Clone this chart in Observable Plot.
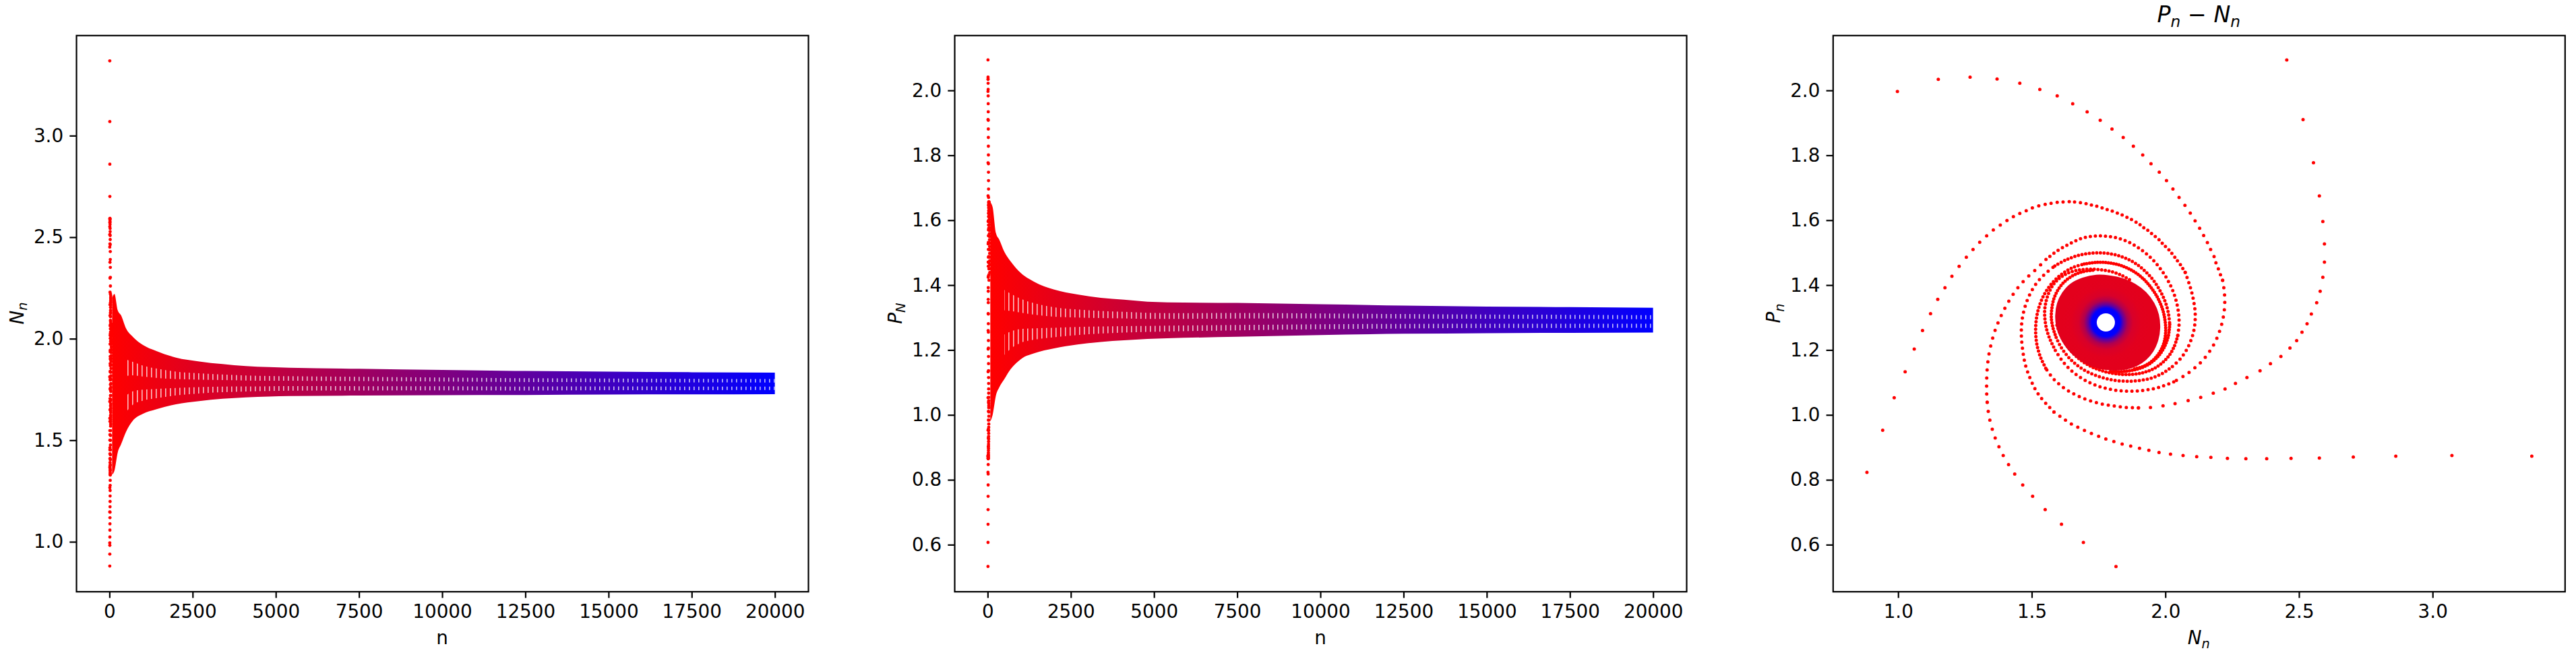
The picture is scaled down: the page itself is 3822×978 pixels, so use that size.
<!DOCTYPE html>
<html><head><meta charset="utf-8">
<script src="https://cdn.jsdelivr.net/npm/d3@7"></script>
<script src="https://cdn.jsdelivr.net/npm/@observablehq/plot@0.6"></script>
<style>
body{margin:0;background:#fff;}
#wrap{position:relative;width:3822px;height:978px;overflow:hidden;background:#fff;}
#wrap svg.panel{position:absolute;top:0;max-width:none;}
</style></head><body>
<svg width="0" height="0" style="position:absolute">
<defs>
 <linearGradient id="gradTS" x1="0" y1="0" x2="1" y2="0">
   <stop offset="0" stop-color="rgb(255,0,0)"/>
   <stop offset="1" stop-color="rgb(0,0,255)"/>
 </linearGradient>
 <pattern id="slits" patternUnits="userSpaceOnUse" width="7" height="20">
   <rect x="0" y="0" width="1.6" height="20" fill="white"/>
 </pattern>
 <radialGradient id="radC" cx="0.5" cy="0.5" r="0.5">
   <stop offset="0" stop-color="#0000ff"/>
   <stop offset="0.32" stop-color="#0000ff"/>
   <stop offset="0.40" stop-color="#6000a0"/>
   <stop offset="0.50" stop-color="#b0004f"/>
   <stop offset="0.62" stop-color="#d8002a"/>
   <stop offset="0.80" stop-color="#e2001e"/>
   <stop offset="1" stop-color="#e3001c"/>
 </radialGradient>
</defs></svg>
<div id="wrap"></div>
<script>
// ---------- tick values ----------
const nTicks = [0, 2500, 5000, 7500, 10000, 12500, 15000, 17500, 20000];
const NTicks = [1.0, 1.5, 2.0, 2.5, 3.0];
const PTicks = [0.6, 0.8, 1.0, 1.2, 1.4, 1.6, 1.8, 2.0];

// ---------- early (sparse) trajectory points ----------
const armA_N = [3.370,3.071,2.861,2.702,2.575,2.469,2.378,2.300,2.231,2.169,2.116,2.065,2.018,1.975,1.937,1.902,1.869,1.837,1.806,1.776,1.749,1.722,1.696,1.671,1.647,1.625,1.604,1.582];
const armA_P = [0.874,0.876,0.874,0.871,0.868,0.867,0.866,0.866,0.867,0.870,0.872,0.876,0.880,0.885,0.892,0.898,0.905,0.911,0.919,0.927,0.935,0.944,0.953,0.963,0.973,0.985,0.997,1.010];
const armB_N = [2.453,2.514,2.553,2.575,2.588,2.594,2.594,2.588,2.578,2.565,2.545,2.529,2.510,2.490,2.465,2.431,2.392,2.353,2.304,2.261,2.222,2.178,2.131,2.084,2.035,1.990,1.943,1.898];
const armB_P = [2.095,1.911,1.778,1.676,1.597,1.528,1.472,1.425,1.382,1.347,1.312,1.282,1.256,1.230,1.207,1.181,1.159,1.137,1.116,1.098,1.081,1.068,1.055,1.045,1.036,1.029,1.024,1.023];
const armC_N = [0.882,0.941,0.984,1.025,1.059,1.090,1.120,1.147,1.174,1.200,1.227,1.254,1.279,1.304,1.330,1.355,1.381,1.406,1.430,1.454,1.478,1.501,1.525,1.549,1.571,1.594,1.616,1.639,1.659,1.681,1.702,1.722,1.742,1.762,1.781,1.800,1.819,1.837,1.855,1.872,1.889,1.904,1.918,1.933,1.947,1.961,1.975,1.987,1.999,2.012,2.023,2.034,2.044,2.055,2.064,2.073];
const armC_P = [0.824,0.954,1.054,1.134,1.204,1.261,1.313,1.357,1.393,1.428,1.459,1.487,1.511,1.533,1.553,1.571,1.586,1.600,1.612,1.622,1.630,1.639,1.645,1.650,1.653,1.656,1.657,1.658,1.657,1.655,1.652,1.648,1.644,1.639,1.634,1.629,1.623,1.617,1.610,1.603,1.595,1.587,1.578,1.570,1.560,1.551,1.541,1.530,1.520,1.510,1.499,1.487,1.476,1.464,1.452,1.440];
const armD_N = [0.996,1.149,1.268,1.369,1.454,1.529,1.594,1.652,1.706,1.755,1.799,1.841,1.879,1.914,1.945,1.976,2.003,2.027,2.050,2.072,2.092,2.110,2.127,2.142,2.156,2.168,2.181,2.188,2.197,2.205,2.213];
const armD_P = [1.998,2.035,2.042,2.036,2.023,2.004,1.984,1.960,1.935,1.909,1.882,1.856,1.829,1.802,1.775,1.749,1.723,1.697,1.671,1.647,1.623,1.599,1.576,1.554,1.532,1.511,1.489,1.470,1.451,1.433,1.416];
const armE_N = [1.814,1.692,1.610,1.549,1.502,1.465,1.435,1.412,1.392,1.376,1.362,1.351,1.342,1.336,1.332];
const armE_P = [0.534,0.608,0.664,0.709,0.750,0.785,0.819,0.848,0.876,0.903,0.930,0.957,0.985,1.012,1.040];

// ---------- denser inner loops ----------
const loopA_N = [1.582,1.559,1.535,1.512,1.492,1.475,1.465,1.460,1.462,1.472,1.490,1.515,1.548,1.585,1.630,1.680,1.730,1.780,1.830,1.875,1.915,1.950,1.978,1.998,2.010,2.015,2.010,1.996,1.973,1.942,1.905,1.865,1.825,1.785];
const loopA_P = [1.010,1.030,1.052,1.080,1.115,1.155,1.200,1.245,1.290,1.330,1.370,1.405,1.435,1.460,1.480,1.494,1.500,1.499,1.490,1.474,1.450,1.420,1.385,1.350,1.315,1.280,1.245,1.212,1.183,1.160,1.145,1.137,1.134,1.136];
const loopB_N = [1.898,1.853,1.810,1.765,1.720,1.678,1.640,1.605,1.575,1.551,1.533,1.520,1.514,1.514,1.520,1.533,1.553,1.580,1.613,1.652,1.695,1.740,1.785,1.830,1.872,1.910,1.942,1.968,1.987,1.997,2.000,1.994,1.978,1.953,1.920,1.880];
const loopB_P = [1.023,1.024,1.028,1.034,1.044,1.057,1.073,1.093,1.117,1.145,1.176,1.210,1.245,1.280,1.315,1.350,1.383,1.412,1.436,1.455,1.466,1.471,1.470,1.462,1.447,1.425,1.397,1.365,1.330,1.295,1.260,1.225,1.195,1.170,1.152,1.142];
const loopC_N = [2.073,2.086,2.097,2.105,2.110,2.110,2.105,2.094,2.077,2.054,2.025,1.990,1.952,1.910,1.868,1.825,1.782,1.740,1.700,1.664,1.633,1.608,1.590,1.578,1.572,1.574,1.582,1.598,1.622,1.652,1.688,1.728];
const loopC_P = [1.440,1.410,1.380,1.350,1.320,1.290,1.260,1.230,1.200,1.173,1.150,1.130,1.116,1.108,1.105,1.106,1.112,1.122,1.137,1.157,1.182,1.210,1.240,1.270,1.300,1.330,1.360,1.388,1.412,1.430,1.442,1.447];
const loopD_N = [2.213,2.218,2.221,2.220,2.215,2.206,2.193,2.176,2.155,2.130,2.100,2.066,2.030,1.990,1.950,1.908,1.865,1.822,1.780,1.740,1.702,1.667,1.636,1.609,1.587,1.569,1.556,1.549,1.547,1.552,1.563,1.580,1.604,1.634,1.670,1.710,1.750,1.790,1.830,1.870];
const loopD_P = [1.416,1.390,1.360,1.330,1.300,1.270,1.240,1.212,1.186,1.162,1.140,1.120,1.103,1.090,1.081,1.076,1.074,1.076,1.082,1.092,1.106,1.124,1.146,1.172,1.200,1.230,1.260,1.290,1.320,1.350,1.378,1.403,1.423,1.438,1.447,1.450,1.449,1.444,1.433,1.415];
const loopE_N = [1.332,1.330,1.330,1.331,1.334,1.339,1.347,1.357,1.370,1.386,1.405,1.427,1.452,1.482,1.515,1.552,1.595,1.640,1.685,1.730,1.775,1.820,1.865,1.905,1.942,1.975,2.003,2.025,2.040,2.048,2.050,2.045,2.032,2.012,1.985,1.952,1.914,1.873,1.832,1.790,1.750,1.712,1.677,1.647,1.622,1.603,1.590];
const loopE_P = [1.040,1.070,1.100,1.130,1.160,1.190,1.220,1.250,1.280,1.310,1.340,1.370,1.398,1.425,1.450,1.480,1.507,1.528,1.545,1.552,1.552,1.546,1.532,1.512,1.487,1.457,1.423,1.387,1.350,1.315,1.280,1.245,1.212,1.183,1.160,1.142,1.131,1.126,1.126,1.131,1.140,1.154,1.173,1.197,1.225,1.255,1.285];

// ---------- dense central region (filled) and its centre ----------
const disc_N = [1.740,1.790,1.840,1.885,1.925,1.955,1.972,1.977,1.970,1.952,1.925,1.890,1.848,1.800,1.752,1.707,1.668,1.634,1.608,1.593,1.589,1.596,1.615,1.645,1.690];
const disc_P = [1.431,1.429,1.420,1.403,1.378,1.345,1.310,1.270,1.232,1.198,1.172,1.153,1.142,1.140,1.145,1.158,1.178,1.205,1.238,1.272,1.308,1.345,1.377,1.404,1.422];
const centre_N = [1.776];
const centre_P = [1.286];

// ---------- time-series envelopes (n, upper/lower) ----------
const envN = [80,150,250,350,500,700,1000,1400,2000,2700,3400,4100,4800,5400,7500,10000,12500,15000,17500,19999];
const N_up = [2.20,2.22,2.14,2.115,2.05,2.01,1.97,1.94,1.907,1.888,1.875,1.865,1.86,1.857,1.852,1.846,1.841,1.838,1.835,1.833];
const N_lo = [1.33,1.35,1.44,1.48,1.542,1.596,1.63,1.652,1.677,1.693,1.704,1.711,1.715,1.718,1.72,1.722,1.723,1.725,1.726,1.727];
const P_up = [1.655,1.64,1.56,1.54,1.503,1.472,1.437,1.41,1.386,1.371,1.361,1.355,1.349,1.347,1.345,1.341,1.337,1.334,1.332,1.33];
const P_lo = [0.98,1.0,1.06,1.085,1.11,1.142,1.172,1.19,1.205,1.217,1.225,1.23,1.234,1.236,1.241,1.246,1.25,1.252,1.253,1.254];
// relative heights (from the bottom of the band) of the two rows of small white gaps
const gapRows = [0.27, 0.62];

// ---------- build tables ----------
const zip = (Ns, Ps) => Ns.map((v, i) => ({n: i, N: v, P: Ps[i]}));
const sparse = [
  ...zip(armA_N, armA_P), ...zip(armB_N, armB_P), ...zip(armC_N, armC_P),
  ...zip(armD_N, armD_P), ...zip(armE_N, armE_P)
];
// each loop is drawn in pieces: dots get closer together as the spiral tightens
const loops = [
  {rows: zip(loopD_N, loopD_P), cuts: [0, 12, 24, 39], gaps: [11, 8, 5.5]},
  {rows: zip(loopE_N, loopE_P), cuts: [0, 15, 31, 46], gaps: [12, 7.5, 5]},
  {rows: zip(loopC_N, loopC_P), cuts: [0, 10, 22, 31], gaps: [8, 6, 4.5]},
  {rows: zip(loopA_N, loopA_P), cuts: [0, 13, 25, 33], gaps: [9, 5.5, 4]},
  {rows: zip(loopB_N, loopB_P), cuts: [0, 9, 20, 35], gaps: [9, 5.5, 4]}
];
const disc = zip(disc_N, disc_P);
const centre = zip(centre_N, centre_P);
const env = envN.map((n, i) => ({n, Nu: N_up[i], Nl: N_lo[i], Pu: P_up[i], Pl: P_lo[i]}));
const envLate = env.filter(d => d.n >= 500);

const FONT = "DejaVu Sans";
const FS = 27.8;
const baseStyle = {fontFamily: FONT, fontSize: FS + "px", background: "transparent", overflow: "visible"};
const fmt1 = d => d.toFixed(1);

function axes(xt, xf, yt, yf) {
  return [
    Plot.frame({stroke: "black", strokeWidth: 2.2}),
    Plot.axisX({ticks: xt, tickFormat: xf, tickSize: 9.7, tickPadding: 9.7, strokeWidth: 2.2, label: null, fontSize: FS}),
    Plot.axisY({ticks: yt, tickFormat: yf, tickSize: 9.7, tickPadding: 9.7, strokeWidth: 2.2, label: null, fontSize: FS})
  ];
}

// white-gap texture rows inside a band (lo/hi keys)
function gapMarks(lo, hi) {
  return gapRows.map(f => Plot.areaY(envLate, {
    x: "n",
    y1: d => d[lo] + (f - 0.08) * (d[hi] - d[lo]),
    y2: d => d[lo] + (f + 0.08) * (d[hi] - d[lo]),
    fill: "url(#slits)", fillOpacity: 0.75, curve: "monotone-x"
  }));
}

function loopMarks() {
  const out = [];
  for (const l of loops) {
    for (let k = 0; k < l.gaps.length; k++) {
      const seg = l.rows.slice(l.cuts[k], l.cuts[k + 1] + 1);
      out.push(Plot.line(seg, {x: "N", y: "P", stroke: "red", strokeWidth: 5,
        strokeDasharray: `0 ${l.gaps[k]}`, strokeLinecap: "round", curve: "catmull-rom"}));
    }
  }
  return out;
}

function addLabel(svg, x, y, parts, size, rotate) {
  const t = d3.select(svg).append("text")
    .attr("transform", `translate(${x},${y}) rotate(${rotate || 0})`)
    .attr("text-anchor", "middle")
    .attr("font-family", FONT)
    .attr("font-size", size)
    .attr("fill", "black");
  let shift = 0;
  for (const p of parts) {
    const ts = t.append("tspan").text(p.t);
    if (p.i) ts.attr("font-style", "italic");
    const target = p.sub ? size * 0.21 : 0;
    if (p.sub) ts.attr("font-size", size * 0.7);
    if (target - shift !== 0) ts.attr("dy", target - shift);
    shift = target;
  }
}

const wrap = document.getElementById("wrap");
function place(svg, left) {
  svg.classList.add("panel");
  svg.style.left = left + "px";
  wrap.appendChild(svg);
}

// ---------- panel 1 : N_n vs n ----------
const p1 = Plot.plot({
  width: 1300, height: 978,
  marginLeft: 113, marginRight: 101, marginTop: 52.3, marginBottom: 100.3,
  style: baseStyle,
  x: {domain: [-1000, 20999], axis: null},
  y: {domain: [0.7555, 3.4945], axis: null},
  marks: [
    Plot.areaY(env, {x: "n", y1: "Nl", y2: "Nu", fill: "url(#gradTS)", curve: "monotone-x"}),
    ...gapMarks("Nl", "Nu"),
    Plot.dot(sparse, {x: "n", y: "N", r: 2.4, fill: "red"}),
    ...axes(nTicks, d => String(d), NTicks, fmt1)
  ]
});
addLabel(p1, 34.5, 465, [{t: "N", i: true}, {t: "n", i: true, sub: true}], FS, -90);
addLabel(p1, 656, 956, [{t: "n"}], FS, 0);
place(p1, 0);

// ---------- panel 2 : P_N vs n ----------
const p2 = Plot.plot({
  width: 1300, height: 978,
  marginLeft: 116, marginRight: 98, marginTop: 52.3, marginBottom: 100.3,
  style: baseStyle,
  x: {domain: [-1000, 20999], axis: null},
  y: {domain: [0.456, 2.170], axis: null},
  marks: [
    Plot.areaY(env, {x: "n", y1: "Pl", y2: "Pu", fill: "url(#gradTS)", curve: "monotone-x"}),
    ...gapMarks("Pl", "Pu"),
    Plot.dot(sparse, {x: "n", y: "P", r: 2.4, fill: "red"}),
    ...axes(nTicks, d => String(d), PTicks, fmt1)
  ]
});
addLabel(p2, 37.5, 465, [{t: "P", i: true}, {t: "N", i: true, sub: true}], FS, -90);
addLabel(p2, 659, 956, [{t: "n"}], FS, 0);
place(p2, 1300);

// ---------- panel 3 : phase plane ----------
const p3 = Plot.plot({
  width: 1222, height: 978,
  marginLeft: 119.3, marginRight: 16.7, marginTop: 52.3, marginBottom: 100.3,
  style: baseStyle,
  x: {domain: [0.7555, 3.4945], axis: null},
  y: {domain: [0.456, 2.170], axis: null},
  marks: [
    ...loopMarks(),
    Plot.dot(sparse, {x: "N", y: "P", r: 2.5, fill: "red"}),
    Plot.line(disc, {x: "N", y: "P", curve: "catmull-rom-closed", fill: "#e3001c", stroke: "#e3001c", strokeWidth: 2}),
    Plot.dot(centre, {x: "N", y: "P", r: 65, fill: "url(#radC)"}),
    Plot.dot(centre, {x: "N", y: "P", r: 13.5, fill: "white"}),
    ...axes(NTicks, fmt1, PTicks, fmt1)
  ]
});
addLabel(p3, 40.8, 465, [{t: "P", i: true}, {t: "n", i: true, sub: true}], FS, -90);
addLabel(p3, 662.3, 956, [{t: "N", i: true}, {t: "n", i: true, sub: true}], FS, 0);
addLabel(p3, 662.3, 33, [{t: "P", i: true}, {t: "n", i: true, sub: true}, {t: " − "}, {t: "N", i: true}, {t: "n", i: true, sub: true}], 33.3, 0);
place(p3, 2600);
</script>
</body></html>
